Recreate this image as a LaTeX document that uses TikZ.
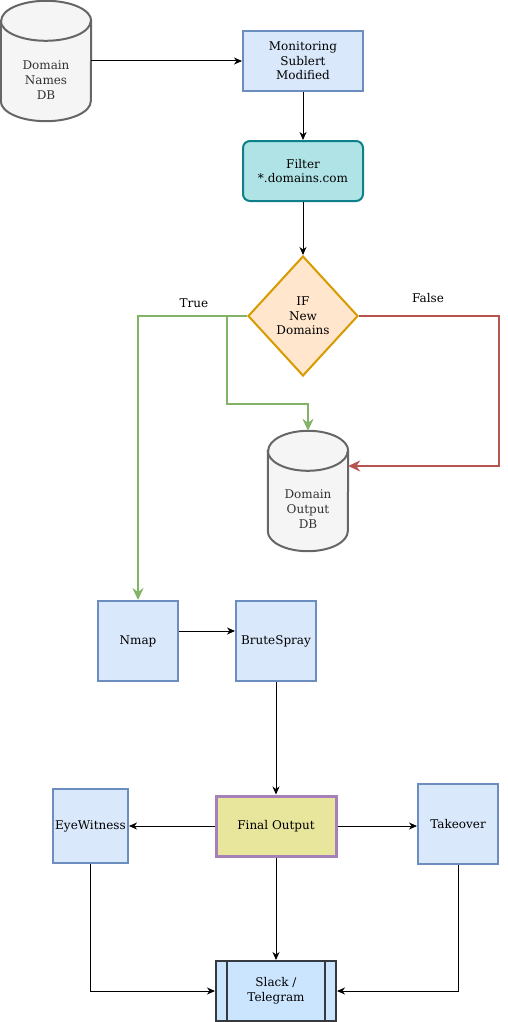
\documentclass[tikz,border=0pt]{standalone}
\usepackage{fontspec}
\setmainfont{DejaVu Serif}
\usetikzlibrary{arrows.meta,shapes.geometric}

\definecolor{blueFill}{HTML}{DAE8FC}
\definecolor{blueLine}{HTML}{6C8EBF}
\definecolor{tealFill}{HTML}{B0E3E6}
\definecolor{tealLine}{HTML}{0E8088}
\definecolor{orangeFill}{HTML}{FFE6CC}
\definecolor{orangeLine}{HTML}{D79B00}
\definecolor{greyFill}{HTML}{F5F5F5}
\definecolor{greyLine}{HTML}{666666}
\definecolor{greyText}{HTML}{333333}
\definecolor{greenLine}{HTML}{82B366}
\definecolor{redLine}{HTML}{B85450}
\definecolor{yellowFill}{HTML}{E8E59D}
\definecolor{purpleLine}{HTML}{A680B8}
\definecolor{slackFill}{HTML}{CCE5FF}
\definecolor{slackLine}{HTML}{36393D}

\begin{document}
\begin{tikzpicture}[x=1pt, y=-1pt,
    every node/.style={font=\fontsize{12}{14.6}\selectfont, align=center},
    box/.style={draw=blueLine, fill=blueFill, line width=2pt, rectangle},
    filterbox/.style={draw=tealLine, fill=tealFill, line width=2pt, rectangle, rounded corners=7pt,
        minimum width=120pt, minimum height=60pt},
    decision/.style={draw=orangeLine, fill=orangeFill, line width=2pt, diamond, aspect=0.92,
        inner sep=0pt, minimum width=110pt, minimum height=120pt},
    dbbox/.style={rectangle, draw=none, inner sep=0pt},
    dbline/.style={draw=greyLine, fill=greyFill, line width=2pt},
    dbtext/.style={text=greyText},
    finalbox/.style={draw=purpleLine, fill=yellowFill, line width=3pt, rectangle,
        minimum width=120pt, minimum height=60pt},
    slackbox/.style={draw=slackLine, fill=slackFill, line width=2pt, rectangle,
        minimum width=120pt, minimum height=60pt},
    lbl/.style={inner sep=0pt},
    arrow/.style={-{Stealth[length=8pt, width=7pt, inset=2.5pt]}, line width=1pt},
    yes/.style={-{Stealth[length=12pt, width=11pt, inset=4pt]}, draw=greenLine, line width=2.6pt},
    no/.style={-{Stealth[length=12pt, width=11pt, inset=4pt]}, draw=redLine, line width=2.6pt}]
    \useasboundingbox (0,0) rectangle (508,1022);

    % input database
    \node[dbbox, minimum width=90pt, minimum height=120pt] (dbin) at (46,61) {};
    \draw[dbline] ([yshift=-20pt]dbin.north west) -- ([yshift=20pt]dbin.south west)
        arc[start angle=180, end angle=360, x radius=45pt, y radius=20pt]
        -- ([yshift=-20pt]dbin.north east)
        arc[start angle=0, end angle=180, x radius=45pt, y radius=20pt] -- cycle;
    \draw[dbline, fill=none] ([yshift=-20pt]dbin.north west)
        arc[start angle=180, end angle=360, x radius=45pt, y radius=20pt];
    \node[dbtext] (dbintext) at (46,80) {Domain\\Names\\DB};

    \node[box, minimum width=120pt, minimum height=60pt] (monitor) at (303,61) {Monitoring\\Sublert\\Modified};
    \node[filterbox] (filter) at (303,171) {Filter\\*.domains.com};
    \node[decision] (ifnew) at (303,316) {IF\\New\\Domains};

    % output database
    \node[dbbox, minimum width=80pt, minimum height=120pt] (dbout) at (308,491) {};
    \draw[dbline] ([yshift=-20pt]dbout.north west) -- ([yshift=20pt]dbout.south west)
        arc[start angle=180, end angle=360, x radius=40pt, y radius=20pt]
        -- ([yshift=-20pt]dbout.north east)
        arc[start angle=0, end angle=180, x radius=40pt, y radius=20pt] -- cycle;
    \draw[dbline, fill=none] ([yshift=-20pt]dbout.north west)
        arc[start angle=180, end angle=360, x radius=40pt, y radius=20pt];
    \node[dbtext] (dbouttext) at (308,509) {Domain\\Output\\DB};

    \node[lbl] (truelbl) at (194,303) {True};
    \node[lbl] (falselbl) at (428,298) {False};

    \node[box, minimum width=80pt, minimum height=80pt] (nmap) at (138,641) {Nmap};
    \node[box, minimum width=80pt, minimum height=80pt] (brute) at (276,641) {BruteSpray};
    \node[finalbox] (final) at (276,826) {Final Output};
    \node[box, minimum width=75pt, minimum height=74pt, inner sep=0pt] (eye) at (90.5,826) {EyeWitness};
    \node[box, minimum width=80pt, minimum height=80pt] (takeover) at (458,824) {Takeover};
    \node[slackbox] (slack) at (276,991) {Slack /\\Telegram};
    \draw[draw=slackLine, line width=2pt] ([xshift=12pt]slack.north west) -- ([xshift=12pt]slack.south west);
    \draw[draw=slackLine, line width=2pt] ([xshift=-12pt]slack.north east) -- ([xshift=-12pt]slack.south east);

    \draw[arrow] (dbin) -- (monitor);
    \draw[arrow] (monitor) -- (filter);
    \draw[arrow] (filter) -- (ifnew);

    \draw[yes] (ifnew.west) -- (nmap.north |- ifnew.west) -- (nmap.north);
    \draw[yes] (ifnew.west) -- ++(-20,0) -- ++(0,88) -| (dbout.north);
    \draw[no] (ifnew.east) -- ++(140,0) |- ([yshift=25pt]dbout.east);

    \draw[arrow] ([yshift=10pt]nmap.east) -- ([yshift=10pt]brute.west);
    \draw[arrow] (brute) -- (final);
    \draw[arrow] (final) -- (eye);
    \draw[arrow] (final.east) -- (final.east -| takeover.west);
    \draw[arrow] (final) -- (slack);
    \draw[arrow] (eye) |- (slack);
    \draw[arrow] (takeover) |- (slack);
\end{tikzpicture}
\end{document}
